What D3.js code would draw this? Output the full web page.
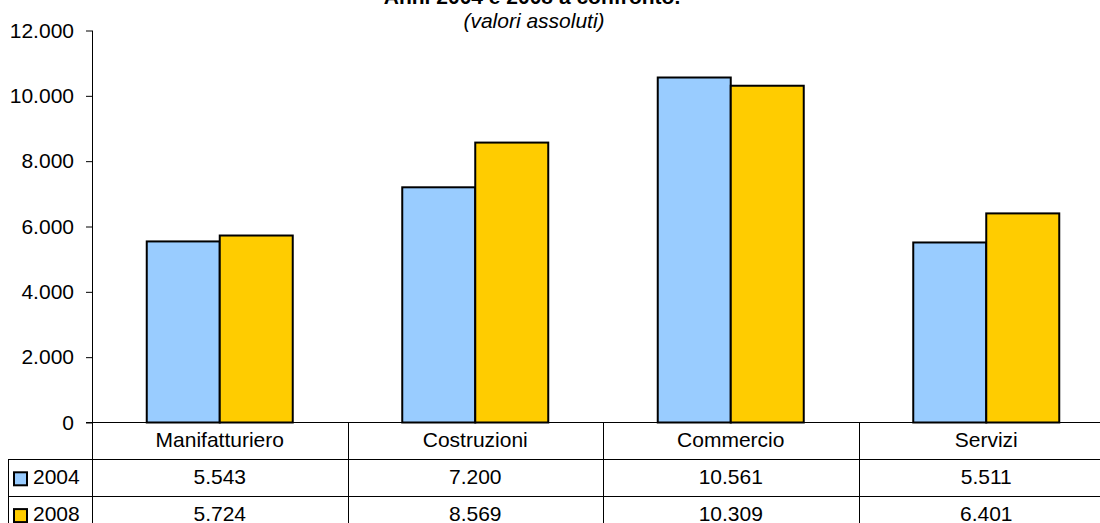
<!DOCTYPE html>
<html><head><meta charset="utf-8">
<script src="https://cdn.jsdelivr.net/npm/d3@7"></script>
<style>
html,body{margin:0;padding:0;background:#fff;}
svg{display:block;font-family:"Liberation Sans",Arial,sans-serif;}
</style></head>
<body>
<svg id="c" width="1100" height="523"></svg>
<script>
const categories = ["Manifatturiero","Costruzioni","Commercio","Servizi"];
const seriesNames = ["2004","2008"];
const values2004 = [5543,7200,10561,5511];
const values2008 = [5724,8569,10309,6401];
const yTicks = [0,2000,4000,6000,8000,10000,12000];
const seriesColors = ["#99CCFF","#FFCC00"];
const title = "Anni 2004 e 2008 a confronto.";
const subtitle = "(valori assoluti)";

const series = [values2004, values2008];
const loc = d3.formatLocale({decimal:",", thousands:".", grouping:[3], currency:["€",""]});
const fmt = loc.format(",d");

const svg = d3.select("#c");
const left = 92, right = 1114, y0 = 422.5, yTop = 30.5, rowH = 36.8;
const fs = 21;

const x0 = d3.scaleBand().domain(categories).range([left, right]).paddingInner(0).paddingOuter(0);
const x1 = d3.scaleBand().domain(seriesNames).range([0, x0.bandwidth()]).paddingInner(0).paddingOuter(0.75);
const y = d3.scaleLinear().domain([0,12000]).range([y0, yTop]);

// title
svg.append("text").attr("x",532).attr("y",3.5).attr("text-anchor","middle")
  .attr("font-size",fs).attr("font-weight","bold").text(title);
svg.append("text").attr("x",534).attr("y",28).attr("text-anchor","middle")
  .attr("font-size",fs).attr("font-style","italic").text(subtitle);

// y axis
const yAxis = d3.axisLeft(y).tickValues(yTicks).tickFormat(d=>fmt(d)).tickSize(6).tickPadding(12);
const ga = svg.append("g").attr("transform",`translate(${left},0)`).call(yAxis);
ga.select(".domain").remove();
ga.selectAll(".tick line").attr("stroke","#000");
ga.selectAll(".tick text").attr("font-size",fs).attr("font-family","Liberation Sans, Arial, sans-serif").attr("fill","#000");
svg.append("line").attr("x1",left+0.5).attr("x2",left+0.5).attr("y1",yTop).attr("y2",523).attr("stroke","#000");

// bars
const g = svg.append("g");
categories.forEach((c,i)=>{
  seriesNames.forEach((s,j)=>{
    const v = series[j][i];
    g.append("rect")
      .attr("x", x0(c)+x1(s))
      .attr("y", y(v))
      .attr("width", x1.bandwidth())
      .attr("height", y(0)-y(v))
      .attr("fill", seriesColors[j])
      .attr("stroke","#000").attr("stroke-width",2);
  });
});

// table lines
const tb = svg.append("g").attr("stroke","#000").attr("stroke-width",1);
tb.append("line").attr("x1",left-6).attr("x2",right).attr("y1",y0).attr("y2",y0);
[1,2].forEach(r=>{
  tb.append("line").attr("x1",8).attr("x2",right).attr("y1",Math.round(y0+rowH*r)+0.5).attr("y2",Math.round(y0+rowH*r)+0.5);
});
tb.append("line").attr("x1",8.5).attr("x2",8.5).attr("y1",Math.round(y0+rowH)).attr("y2",523);
categories.forEach((c,i)=>{
  if(i>0) tb.append("line").attr("x1",Math.round(x0(c))+0.5).attr("x2",Math.round(x0(c))+0.5).attr("y1",y0).attr("y2",523);
});

// table texts
categories.forEach(c=>{
  svg.append("text").attr("x",x0(c)+x0.bandwidth()/2).attr("y",y0+24.5).attr("text-anchor","middle")
    .attr("font-size",fs).text(c);
  series.forEach((arr,j)=>{
    svg.append("text").attr("x",x0(c)+x0.bandwidth()/2).attr("y",y0+rowH*(j+1)+24.5).attr("text-anchor","middle")
      .attr("font-size",fs).text(fmt(arr[categories.indexOf(c)]));
  });
});
seriesNames.forEach((s,j)=>{
  const ry = y0+rowH*(j+1);
  svg.append("rect").attr("x",14).attr("y",ry+13).attr("width",13).attr("height",13)
    .attr("fill",seriesColors[j]).attr("stroke","#000").attr("stroke-width",2);
  svg.append("text").attr("x",33).attr("y",ry+24.5).attr("font-size",fs).text(s);
});
</script>
</body></html>
